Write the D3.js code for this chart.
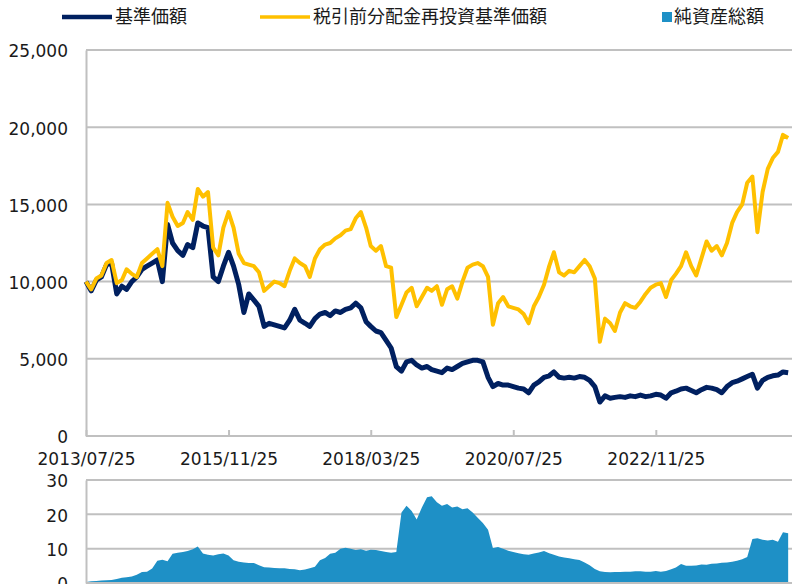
<!DOCTYPE html>
<html>
<head>
<meta charset="utf-8">
<script src="https://cdn.jsdelivr.net/npm/d3@7"></script>
<style>
  body { margin: 0; background: #fff; }
  svg { display: block; }
  .tick-label { font-family: "DejaVu Sans", Verdana, sans-serif; font-size: 17px; fill: #1a1a1a; }
  .legend-label { font-family: "Noto Sans CJK JP", sans-serif; font-size: 18px; fill: #1a1a1a; }
</style>
</head>
<body>
<div id="chart"></div>
<script>
// series names
var seriesNames = ["基準価額", "税引前分配金再投資基準価額", "純資産総額"];

// monthly observations, starting 2013/07/25
var startDate = "2013-07-25";

// 基準価額 (yen)
var navValues = [
  10000, 9400, 10100, 10300, 11100, 11200, 9200, 9700, 9500, 10000,
  10300, 10800, 11000, 11200, 11400, 10000, 13700, 12500, 12000, 11700,
  12400, 12200, 13800, 13600, 13500, 10300, 10000, 11000, 11900, 11000,
  9800, 8000, 9200, 8800, 8400, 7100, 7300, 7200, 7100, 7000,
  7500, 8200, 7500, 7300, 7100, 7600, 7900, 8000, 7800, 8100,
  8000, 8200, 8300, 8600, 8300, 7400, 7100, 6800, 6700, 6200,
  5700, 4500, 4200, 4800, 4900, 4600, 4400, 4500, 4300, 4200,
  4100, 4400, 4300, 4500, 4700, 4800, 4900, 4900, 4800, 3800,
  3200, 3400, 3300, 3300, 3200, 3100, 3050, 2800, 3300, 3500,
  3800, 3900, 4150, 3800, 3750, 3800, 3750, 3850, 3800, 3600,
  3200, 2200, 2600, 2450, 2500, 2550, 2500, 2600, 2550, 2650,
  2550, 2600, 2700, 2650, 2450, 2800, 2900, 3050, 3100, 2950,
  2800, 3000, 3150, 3100, 3000, 2800, 3200, 3450, 3550, 3700,
  3850, 4000, 3100, 3600, 3800, 3900, 3950, 4150, 4100
];

// 税引前分配金再投資基準価額 (yen)
var reinvValues = [
  10000, 9500, 10200, 10400, 11200, 11400, 9900, 10100, 10800, 10500,
  10300, 11200, 11500, 11800, 12100, 11000, 15100, 14200, 13600, 13800,
  14500, 14000, 16000, 15500, 15800, 12200, 11700, 13500, 14500, 13500,
  11800, 11200, 11100, 11000, 10600, 9400, 9700, 10000, 9900, 9700,
  10700, 11500, 11200, 11000, 10300, 11500, 12100, 12400, 12500, 12800,
  13000, 13300, 13400, 14100, 14500, 13500, 12300, 12000, 12300, 11000,
  10900, 7700, 8500, 9300, 9600, 8400, 9000, 9600, 9400, 9700,
  8500, 9500, 9700, 8900, 10000, 10900, 11100, 11200, 11000, 10300,
  7200, 8600, 9000, 8400, 8300, 8200, 7900, 7300, 8400, 9000,
  9800, 11000, 11900, 10600, 10400, 10700, 10600, 11000, 11400, 11000,
  10200, 6100, 7600, 7300, 6800, 8000, 8600, 8400, 8300, 8700,
  9200, 9600, 9800, 9900, 9000, 10100, 10500, 11000, 11900, 11000,
  10400, 11500, 12600, 12000, 12300, 11700, 12500, 13800, 14500, 15000,
  16400, 16800, 13200, 15800, 17300, 18000, 18400, 19500, 19300
];

// 純資産総額 (億円)
var assetValues = [
  0.3, 0.5, 0.6, 0.7, 0.8, 0.9, 1.2, 1.5, 1.7, 1.9,
  2.4, 3.2, 3.3, 4.2, 6.5, 6.8, 6.3, 8.5, 8.8, 9.0,
  9.3, 9.8, 10.6, 8.6, 8.2, 8.0, 8.4, 8.6, 8.0, 6.6,
  6.2, 6.0, 5.8, 5.8, 5.2, 4.6, 4.5, 4.4, 4.3, 4.3,
  4.1, 4.0, 3.7, 3.9, 4.3, 4.7, 6.6, 7.3, 8.5, 8.8,
  10.0, 10.3, 10.0, 9.6, 9.8, 9.4, 9.7, 9.6, 9.3, 9.0,
  8.8, 9.0, 20.5, 22.5, 21.0, 18.5, 22.0, 25.0, 25.3, 23.5,
  22.5, 23.0, 22.0, 22.3, 21.5, 21.8, 20.5, 19.0, 17.5, 15.5,
  10.2, 10.5, 10.0, 9.4, 9.0, 8.7, 8.4, 8.2, 8.6, 8.9,
  9.3, 8.7, 8.2, 7.7, 7.4, 7.2, 6.9, 6.7, 6.0, 5.2,
  4.1, 3.4, 3.2, 3.1, 3.2, 3.2, 3.3, 3.3, 3.4, 3.4,
  3.3, 3.3, 3.5, 3.3, 3.5, 4.0, 4.5, 5.5, 5.0, 5.0,
  5.1, 5.4, 5.3, 5.6, 5.7, 5.9, 6.0, 6.2, 6.5, 6.9,
  7.6, 12.8, 13.0, 12.6, 12.4, 12.6, 12.0, 14.8, 14.5
];

// axis ticks
var dateTicks = ["2013-07-25", "2015-11-25", "2018-03-25", "2020-07-25", "2022-11-25"];
var priceTicks = [0, 5000, 10000, 15000, 20000, 25000];
var assetTicks = [0, 10, 20, 30];

var colors = { nav: "#002060", reinv: "#ffc000", asset: "#1e90c6", grid: "#c0c0c0" };

var width = 792, height = 584;
var parse = d3.timeParse("%Y-%m-%d");
var fmtDate = d3.timeFormat("%Y/%m/%d");

var start = parse(startDate);
var data = navValues.map(function(v, i) {
  return {
    date: d3.timeMonth.offset(start, i),
    nav: v,
    reinv: reinvValues[i],
    asset: assetValues[i]
  };
});

var svg = d3.select("#chart")
  .append("svg")
  .attr("width", width)
  .attr("height", height);

// scales
var x = d3.scaleTime()
  .domain([start, parse("2025-02-17")])
  .range([86, 792]);

var yTop = d3.scaleLinear().domain([0, 25000]).range([436, 50]);
var yBot = d3.scaleLinear().domain([0, 30]).range([583, 480]);

/* ---------- top panel ---------- */
var topPanel = svg.append("g");

topPanel.append("g")
  .selectAll("line")
  .data(priceTicks.slice(1))
  .enter()
  .append("line")
  .attr("x1", 86).attr("x2", width)
  .attr("y1", function(d) { return yTop(d); })
  .attr("y2", function(d) { return yTop(d); })
  .attr("stroke", colors.grid)
  .attr("stroke-width", 2);

var xAxis = d3.axisBottom(x)
  .tickValues(dateTicks.map(parse))
  .tickSize(-6)
  .tickFormat(fmtDate);

var gx = topPanel.append("g")
  .attr("transform", "translate(0," + yTop(0) + ")")
  .call(xAxis);
gx.select(".domain").attr("stroke", colors.grid).attr("stroke-width", 2)
  .attr("d", "M86,0H" + width);
gx.selectAll(".tick line").attr("stroke", colors.grid).attr("stroke-width", 2);
gx.selectAll(".tick text")
  .attr("class", "tick-label")
  .attr("y", 17)
  .attr("dy", "0.71em");

var yAxis = d3.axisLeft(yTop)
  .tickValues(priceTicks)
  .tickSize(0)
  .tickPadding(18)
  .tickFormat(d3.format(","));

var gy = topPanel.append("g")
  .attr("transform", "translate(86,0)")
  .call(yAxis);
gy.select(".domain").attr("stroke", colors.grid).attr("stroke-width", 2);
gy.selectAll(".tick text").attr("class", "tick-label").attr("dy", "0.4em");

var line = function(key) {
  return d3.line()
    .x(function(d) { return x(d.date); })
    .y(function(d) { return yTop(d[key]); });
};

topPanel.append("path")
  .datum(data)
  .attr("fill", "none")
  .attr("stroke", colors.nav)
  .attr("stroke-width", 5)
  .attr("stroke-linejoin", "round")
  .attr("d", line("nav"));

topPanel.append("path")
  .datum(data)
  .attr("fill", "none")
  .attr("stroke", colors.reinv)
  .attr("stroke-width", 4)
  .attr("stroke-linejoin", "round")
  .attr("d", line("reinv"));

/* ---------- bottom panel ---------- */
var botPanel = svg.append("g");

botPanel.append("g")
  .selectAll("line")
  .data(assetTicks.slice(1))
  .enter()
  .append("line")
  .attr("x1", 86).attr("x2", width)
  .attr("y1", function(d) { return yBot(d); })
  .attr("y2", function(d) { return yBot(d); })
  .attr("stroke", colors.grid)
  .attr("stroke-width", 2);

botPanel.append("path")
  .datum(data)
  .attr("fill", colors.asset)
  .attr("d", d3.area()
    .x(function(d) { return x(d.date); })
    .y0(yBot(0))
    .y1(function(d) { return yBot(d.asset); })
  );

botPanel.append("line")
  .attr("x1", 86).attr("x2", width)
  .attr("y1", yBot(0)).attr("y2", yBot(0))
  .attr("stroke", colors.grid).attr("stroke-width", 2);

var gy2 = botPanel.append("g")
  .attr("transform", "translate(86,0)")
  .call(d3.axisLeft(yBot).tickValues(assetTicks).tickSize(0).tickPadding(18));
gy2.select(".domain").attr("stroke", colors.grid).attr("stroke-width", 2);
gy2.selectAll(".tick text").attr("class", "tick-label").attr("dy", "0.4em");

/* ---------- legend ---------- */
var legend = svg.append("g");

legend.append("line")
  .attr("x1", 62).attr("x2", 112).attr("y1", 17).attr("y2", 17)
  .attr("stroke", colors.nav).attr("stroke-width", 4.5);
legend.append("text")
  .attr("class", "legend-label")
  .attr("x", 115).attr("y", 17).attr("dy", "0.35em")
  .text(seriesNames[0]);

legend.append("line")
  .attr("x1", 260).attr("x2", 310).attr("y1", 17).attr("y2", 17)
  .attr("stroke", colors.reinv).attr("stroke-width", 3.5);
legend.append("text")
  .attr("class", "legend-label")
  .attr("x", 313).attr("y", 17).attr("dy", "0.35em")
  .text(seriesNames[1]);

legend.append("rect")
  .attr("x", 662).attr("y", 12).attr("width", 10).attr("height", 10)
  .attr("fill", colors.asset);
legend.append("text")
  .attr("class", "legend-label")
  .attr("x", 674).attr("y", 17).attr("dy", "0.35em")
  .text(seriesNames[2]);
</script>
</body>
</html>
